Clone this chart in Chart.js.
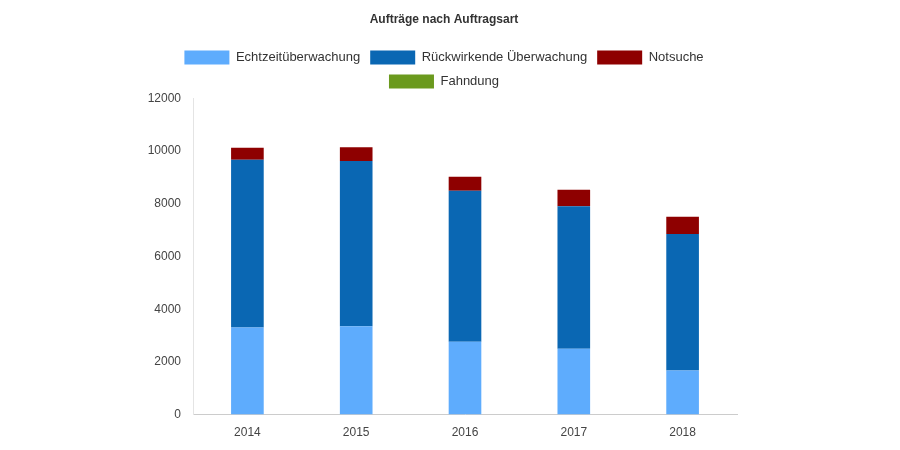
<!DOCTYPE html>
<html>
<head>
<meta charset="utf-8">
<script src="https://cdn.jsdelivr.net/npm/chart.js@4"></script>
<style>
  html, body { margin: 0; padding: 0; background: #fff; }
  #wrap { width: 900px; height: 450px; }
</style>
</head>
<body>
<div id="wrap"><canvas id="auftraegeChart" width="900" height="450"></canvas></div>
<script>
// Jahre und Werte pro Auftragsart
const years = ['2014', '2015', '2016', '2017', '2018'];
const echtzeit = [3310, 3350, 2760, 2500, 1670];
const rueckwirkend = [6360, 6270, 5740, 5410, 5180];
const notsuche = [460, 530, 530, 620, 660];
const fahndung = [0, 0, 0, 0, 0];
const yTicks = [0, 2000, 4000, 6000, 8000, 10000, 12000];

const fontFamily = "'Liberation Sans', Arial, sans-serif";

function makeDataset(label, data, color) {
    return {
        label: label,
        data: data,
        backgroundColor: color,
        borderColor: color,
        borderWidth: 0,
        barPercentage: 0.6,
        categoryPercentage: 0.5
    };
}

new Chart(document.getElementById('auftraegeChart'), {
    type: 'bar',
    data: {
        labels: years,
        datasets: [
            makeDataset('Echtzeitüberwachung', echtzeit, '#5eacfd'),
            makeDataset('Rückwirkende Überwachung', rueckwirkend, '#0a67b3'),
            makeDataset('Notsuche', notsuche, '#8e0000'),
            makeDataset('Fahndung', fahndung, '#6b9a1e')
        ]
    },
    options: {
        responsive: false,
        animation: false,
        layout: { padding: { left: 140, right: 152, top: 3, bottom: 7 } },
        plugins: {
            title: {
                display: true,
                text: 'Aufträge nach Auftragsart',
                color: '#333',
                font: { family: fontFamily, size: 12, weight: 'bold' },
                padding: { top: 9, bottom: 14 }
            },
            legend: {
                position: 'top',
                labels: {
                    boxWidth: 45,
                    boxHeight: 14,
                    padding: 10,
                    color: '#333',
                    font: { family: fontFamily, size: 13, lineHeight: 1 }
                }
            },
            tooltip: { enabled: false }
        },
        scales: {
            x: {
                stacked: true,
                grid: { display: false },
                border: { color: '#ccc', width: 1 },
                ticks: { color: '#444', font: { family: fontFamily, size: 12 }, padding: 3 }
            },
            y: {
                stacked: true,
                min: 0,
                max: 12000,
                afterBuildTicks: function(axis) {
                    axis.ticks = yTicks.map(v => ({ value: v }));
                },
                afterFit: function(axis) { axis.width = 53; },
                grid: { display: false },
                border: { color: '#e4e4e4', width: 1 },
                ticks: {
                    color: '#444',
                    font: { family: fontFamily, size: 12 },
                    padding: 4,
                    callback: function(value) { return String(value); }
                }
            },
            // leere Achse rechts, nur als Abstand
            yRight: {
                position: 'right',
                grid: { display: false },
                border: { display: false },
                ticks: { display: false },
                afterFit: function(axis) { axis.width = 11; }
            }
        }
    }
});
</script>
</body>
</html>
